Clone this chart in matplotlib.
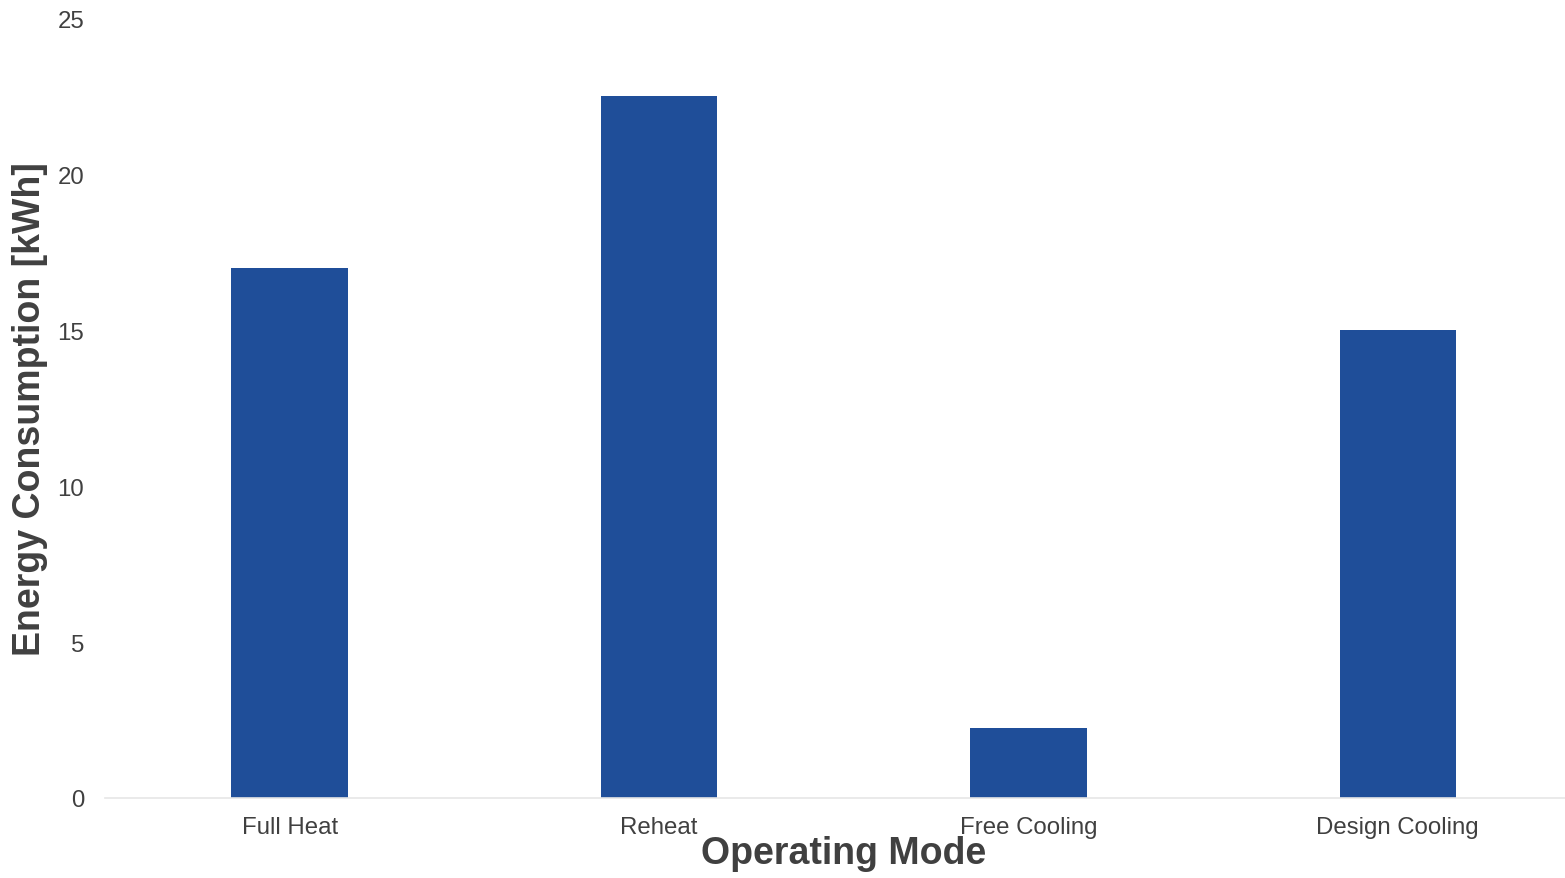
import matplotlib
matplotlib.use("Agg")
import matplotlib.pyplot as plt

plt.rcParams['font.family'] = ['Liberation Sans', 'DejaVu Sans']

# dane
tryby = ["Full Heat", "Reheat", "Free Cooling", "Design Cooling"]
energia = [17.0, 22.5, 2.25, 15.0]

KOLOR_SLUPKA = "#1F4E99"
KOLOR_TEKSTU = "#404040"

fig = plt.figure(figsize=(15.65, 8.79), dpi=100)
ax = fig.add_axes([105 / 1565, 1 - 799 / 879, 1 - 105 / 1565, (799 - 19) / 879])

ax.bar(range(len(tryby)), energia, width=0.315, color=KOLOR_SLUPKA, zorder=2)

ax.set_xlim(-0.5, 3.453)
ax.set_ylim(0, 25)
ax.set_yticks([0, 5, 10, 15, 20, 25])
ax.set_xticks(range(len(tryby)))
ax.set_xticklabels(tryby)

for s in ["top", "right", "left"]:
    ax.spines[s].set_visible(False)
ax.spines["bottom"].set_color("#e6e6e6")
ax.spines["bottom"].set_linewidth(1.2)

ax.tick_params(axis="y", length=0, pad=15, labelsize=17.3, labelcolor=KOLOR_TEKSTU)
ax.tick_params(axis="x", length=0, pad=13, labelsize=17.3, labelcolor=KOLOR_TEKSTU)

ax.set_xlabel("Operating Mode", fontsize=27, fontweight="bold", color=KOLOR_TEKSTU)
ax.set_ylabel("Energy Consumption [kWh]", fontsize=27, fontweight="bold", color=KOLOR_TEKSTU)
# pozycje etykiet osi dopasowane do oryginału (w pikselach)
ax.xaxis.set_label_coords((844 - 105) / 1460, -(836 - 799) / 780)
ax.yaxis.set_label_coords((48 - 105) / 1460, 0.5)

fig.savefig("out.png", dpi=100)
